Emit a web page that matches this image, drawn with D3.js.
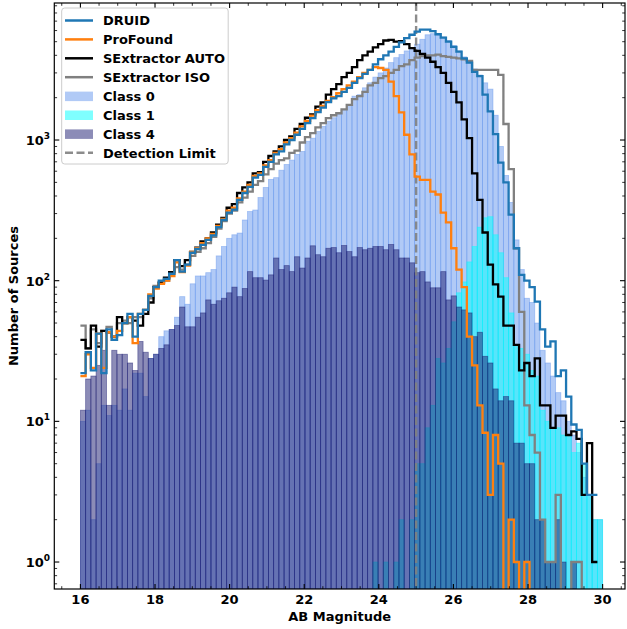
<!DOCTYPE html>
<html><head><meta charset="utf-8">
<script src="https://cdn.jsdelivr.net/npm/d3@7"></script>
<style>body{margin:0;background:#fff} text{font-family:"DejaVu Sans",sans-serif;font-weight:bold;fill:#000}</style>
</head><body><svg id="c" width="627" height="629"></svg>
<script>
// ---------- data ----------
const binEdges = d3.range(101).map(i => +(16 + 0.14 * i).toFixed(2));

const druid = [22,31,23,42,22,45,38,41,50,58, 40,58,62,78,90,100,103,112,140,116, 130,158,168,180,195,210,240,270,305,320,
 375,420,465,540,565,645,700,790,830,930, 1000,1090,1200,1320,1430,1580,1700,1860,1980,2050,
 2200,2350,2550,2750,2950,3150,3450,3750,4000,4250, 4600,4950,5300,5600,5900,6100,6100,5950,5650,5350,
 5000,4600,4250,3800,3550,3050,2850,2100,1600,1100, 690,500,295,170,110,100,90,71,45,34,
 37,21,23,15,9.5,8.7,5,3,3];
const profound = [21,30,24,42,24,43,40,44,50,55, 36,58,62,80,88,95,100,108,135,115, 128,160,170,185,200,215,245,275,315,330,
 385,430,480,555,580,660,720,810,860,960, 1030,1130,1250,1370,1490,1630,1750,1900,2020,2150,
 2300,2450,2600,2800,3000,3150,3300,3250,3150,2600, 2050,1570,1090,790,550,520,520,430,410,305,
 260,170,120,90,40,25,13,8.3,3,8, 5,0,2,1,0,1,0,0,0,0,
 0,0,0,0,0,0,0,0,0];
const sexAuto = [38,33,48,34,44,43,40,55,50,55, 52,48,58,70,90,97,105,115,140,127, 140,160,172,190,200,220,250,280,330,350,
 420,460,500,580,590,700,770,830,900,1000, 1060,1200,1300,1440,1520,1730,1850,2100,2300,2500,
 2800,3000,3300,3700,4000,4250,4550,4800,5100,5150, 5000,5050,4800,4500,4300,4100,3850,3600,3300,3000,
 2550,2200,1850,1400,1030,580,375,220,130,94, 77,48,48,35,23,26,21,28,13,13,
 9,11,11,8,8.5,7.5,3,7,1];
const sexIso = [48,33,45,36,44,47,38,50,52,50, 55,55,62,75,92,97,100,115,125,120, 130,150,160,170,185,205,235,265,300,315,
 360,390,430,480,510,570,620,680,720,740, 810,840,960,1050,1120,1230,1320,1430,1500,1550,
 1650,1780,1950,2050,2200,2450,2550,2750,2850,3000, 3150,3350,3450,3700,3850,3950,4000,4000,4050,3950,
 3900,3850,3800,3750,3650,3150,3150,3150,3150,3150, 2900,1300,620,170,60,13,8,6,2,1,
 1,3,0,0,1,1,0,0,0];

const class0 = [10,12,2,5,13,11,13,12,17,12, 22,22,15,28,30,40,44,45,55,77, 68,95,108,108,114,120,150,175,200,212,
 218,270,310,318,390,460,525,540,610,670, 720,790,830,980,1030,1150,1250,1360,1440,1520,
 1620,1780,2050,2100,2350,2550,2800,3000,3250,3550, 3850,4050,4300,4550,4800,5200,5600,5700,5600,5400,
 5100,4700,4300,3900,3500,3200,2900,2550,2300,1500, 900,560,360,195,120,75,70,50,32,26,
 21,16,14,10,8,6,4,3,2,2];
const class1 = [0,0,0,0,0,0,0,0,0,0, 0,0,0,0,0,0,0,0,0,0, 0,0,0,0,0,0,0,0,0,0,
 0,0,0,0,0,0,0,0,0,0, 0,0,0,0,0,0,0,0,0,0,
 0,0,0,0,0,0,1,0,1,0, 1,2,0,2,5,5,9,13,28,26,
 33,51,82,98,136,175,240,280,285,212, 158,105,59,34,33,30,23,21,12,10,
 9,9,8,8,6,7,5,3,2,2];
const class4 = [12,20,21,25,32,13,32,30,30,26, 23,37,31,28,30,33,35,45,48,65, 47,47,55,59,73,68,72,75,82,90,
 77,88,116,105,105,101,110,145,120,128, 116,148,123,145,177,153,148,170,172,158,
 178,161,148,172,166,170,175,175,166,181, 166,145,145,134,114,116,98,89,89,116,
 73,78,65,62,59,40,43,29,26,17, 14,15,14,7,7,5,5,2,2,1,
 1,2,1,0,1,0,0,0,0,0];

const xTicks = [16,18,20,22,24,26,28,30];
const yTicks = [1,10,100,1000];
const yTickExp = ["0","1","2","3"];
const detectionLimit = 25;

const lineSeries = [
  {name:"SExtractor ISO", values:sexIso, color:"#808080"},
  {name:"SExtractor AUTO", values:sexAuto, color:"#000000"},
  {name:"ProFound", values:profound, color:"#ff7f0e"},
  {name:"DRUID", values:druid, color:"#1f77b4"}
];
const barSeries = [
  {name:"Class 0", values:class0, color:"#6495ed"},
  {name:"Class 1", values:class1, color:"#00ffff"},
  {name:"Class 4", values:class4, color:"#191970"}
];

// ---------- layout ----------
const L = 54.3, R = 625, T = 3, B = 589;
const x = d3.scaleLinear().domain([15.3, 30.6]).range([L, R]);
const y = d3.scaleLog().domain([0.643, 9420]).range([B, T]);
const svg = d3.select("#c");

svg.append("defs").append("clipPath").attr("id","clip")
  .append("rect").attr("x",L).attr("y",T).attr("width",R-L).attr("height",B-T);
const plot = svg.append("g").attr("clip-path","url(#clip)");

// bars
barSeries.forEach(s => {
  plot.append("g").selectAll("rect")
    .data(s.values.map((v,i)=>({v,i})).filter(d=>d.v>0))
    .join("rect")
    .attr("x", d=>x(binEdges[d.i]))
    .attr("width", d=>x(binEdges[d.i+1])-x(binEdges[d.i]))
    .attr("y", d=>y(d.v))
    .attr("height", d=>B - y(d.v))
    .attr("fill", s.color).attr("fill-opacity", 0.5)
    .attr("stroke", s.color).attr("stroke-opacity", 0.5).attr("stroke-width", 0.8);
});

// detection limit
plot.append("line").attr("x1",x(detectionLimit)).attr("x2",x(detectionLimit))
  .attr("y1",T).attr("y2",B).attr("stroke","#808080").attr("stroke-width",2.4)
  .attr("stroke-dasharray","8,3.5").attr("opacity",0.9);

// step lines
const stepLine = d3.line()
  .x(d=>x(d[0])).y(d=> d[1]>0 ? y(d[1]) : B+30)
  .curve(d3.curveStepAfter);
lineSeries.forEach(s => {
  const pts = s.values.map((v,i)=>[binEdges[i], v]);
  pts.push([binEdges[s.values.length], s.values[s.values.length-1]]);
  plot.append("path").attr("d", stepLine(pts)).attr("fill","none")
    .attr("stroke", s.color).attr("stroke-width", 2.3).attr("stroke-linejoin","miter");
});

// axes frame
const ax = svg.append("g").attr("stroke","#000");
ax.append("rect").attr("x",L).attr("y",T).attr("width",R-L).attr("height",B-T)
  .attr("fill","none").attr("stroke-width",1.2);

// x ticks
const xMinor = d3.range(15.5, 30.51, 0.5).filter(v => !xTicks.includes(v));
xTicks.forEach(t => {
  ax.append("line").attr("x1",x(t)).attr("x2",x(t)).attr("y1",B).attr("y2",B-5).attr("stroke-width",1.1);
  ax.append("line").attr("x1",x(t)).attr("x2",x(t)).attr("y1",T).attr("y2",T+5).attr("stroke-width",1.1);
});
xMinor.forEach(t => {
  ax.append("line").attr("x1",x(t)).attr("x2",x(t)).attr("y1",B).attr("y2",B-2.8).attr("stroke-width",0.8);
  ax.append("line").attr("x1",x(t)).attr("x2",x(t)).attr("y1",T).attr("y2",T+2.8).attr("stroke-width",0.8);
});
// y ticks
const yMinor = [];
[-1,0,1,2,3].forEach(d => { for (let k=2;k<=9;k++){ const v=k*Math.pow(10,d); if (v>0.643 && v<9420) yMinor.push(v);} });
yTicks.forEach(t => {
  ax.append("line").attr("x1",L).attr("x2",L+5).attr("y1",y(t)).attr("y2",y(t)).attr("stroke-width",1.1);
  ax.append("line").attr("x1",R).attr("x2",R-5).attr("y1",y(t)).attr("y2",y(t)).attr("stroke-width",1.1);
});
yMinor.forEach(t => {
  ax.append("line").attr("x1",L).attr("x2",L+2.8).attr("y1",y(t)).attr("y2",y(t)).attr("stroke-width",0.8);
  ax.append("line").attr("x1",R).attr("x2",R-2.8).attr("y1",y(t)).attr("y2",y(t)).attr("stroke-width",0.8);
});

// tick labels
xTicks.forEach(t => {
  svg.append("text").attr("x",x(t)).attr("y",604).attr("text-anchor","middle")
    .attr("font-size",13).text(t);
});
yTicks.forEach((t,i) => {
  const tx = svg.append("text").attr("x",50).attr("y",y(t)+5).attr("text-anchor","end").attr("font-size",13);
  tx.append("tspan").text("10");
  tx.append("tspan").attr("dy",-6).attr("font-size",9).text(yTickExp[i]);
});

// axis labels
svg.append("text").attr("x",(L+R)/2).attr("y",621).attr("text-anchor","middle")
  .attr("font-size",13).text("AB Magnitude");
svg.append("text").attr("transform",`translate(18,${(T+B)/2}) rotate(-90)`)
  .attr("text-anchor","middle").attr("font-size",13).text("Number of Sources");

// legend
const lg = svg.append("g");
lg.append("rect").attr("x",61.7).attr("y",8).attr("width",166.5).attr("height",156)
  .attr("rx",3).attr("fill","#fff").attr("fill-opacity",0.85).attr("stroke","#cccccc").attr("stroke-width",1);
const legendItems = [
  {label:"DRUID", type:"line", color:"#1f77b4"},
  {label:"ProFound", type:"line", color:"#ff7f0e"},
  {label:"SExtractor AUTO", type:"line", color:"#000000"},
  {label:"SExtractor ISO", type:"line", color:"#808080"},
  {label:"Class 0", type:"patch", color:"#6495ed"},
  {label:"Class 1", type:"patch", color:"#00ffff"},
  {label:"Class 4", type:"patch", color:"#191970"},
  {label:"Detection Limit", type:"dash", color:"#808080"}
];
legendItems.forEach((it,i) => {
  const cy = 20.5 + i*18.9;
  if (it.type === "patch") {
    lg.append("rect").attr("x",65).attr("y",cy-4.5).attr("width",28).attr("height",9.5)
      .attr("fill",it.color).attr("fill-opacity",0.5);
  } else {
    const ln = lg.append("line").attr("x1",65).attr("x2",93).attr("y1",cy).attr("y2",cy)
      .attr("stroke",it.color).attr("stroke-width",2.5);
    if (it.type === "dash") ln.attr("stroke-dasharray","8,3.5").attr("opacity",0.9);
  }
  lg.append("text").attr("x",103).attr("y",cy+4.8).attr("font-size",13).text(it.label);
});
</script></body></html>
